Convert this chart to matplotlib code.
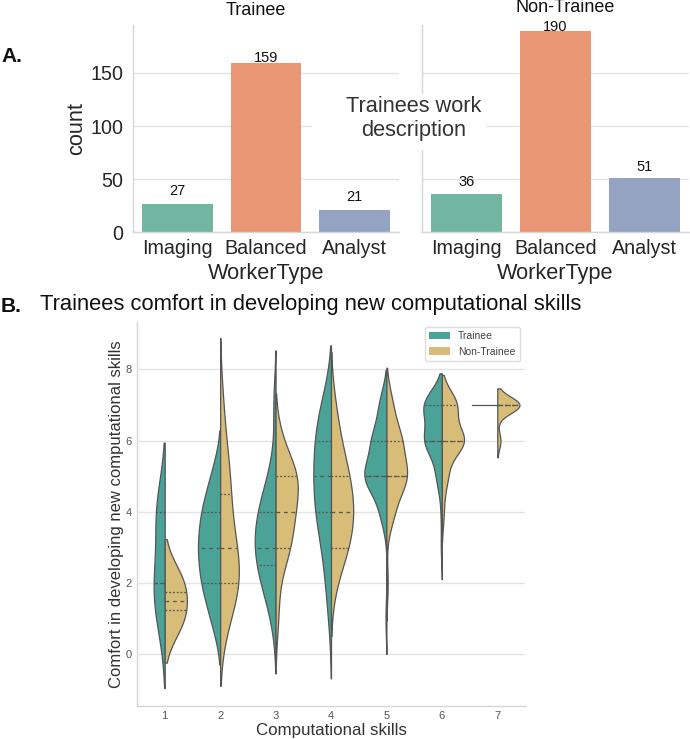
import numpy as np
import matplotlib
matplotlib.use("Agg")
import matplotlib.pyplot as plt
from matplotlib.patches import Rectangle, Patch
import seaborn as sns

# ---------------- data ----------------
worker_types = ["Imaging", "Balanced", "Analyst"]
trainee_worker_counts = [27, 159, 21]
nontrainee_worker_counts = [36, 190, 51]
panel_titles = ["Trainee", "Non-Trainee"]

skill_levels = [1, 2, 3, 4, 5, 6, 7]
comfort_levels = [1, 2, 3, 4, 5, 6, 7]
# rows: computational skill 1..7, columns: number of answers at comfort 1..7
trainee_comfort_counts = [
    [1, 2, 0, 2, 0, 0, 0],
    [3, 6, 7, 6, 3, 0, 0],
    [1, 4, 6, 5, 2, 0, 1],
    [1, 2, 3, 6, 6, 6, 4],
    [1, 0, 0, 6, 22, 14, 7],
    [0, 0, 1, 1, 5, 16, 17],
    [0, 0, 0, 0, 0, 0, 1],
]
nontrainee_comfort_counts = [
    [1, 1, 0, 0, 0, 0, 0],
    [2, 6, 4, 2, 3, 1, 1],
    [1, 1, 5, 6, 8, 2, 0],
    [0, 1, 4, 5, 4, 2, 1],
    [0, 1, 0, 5, 14, 10, 4],
    [0, 0, 0, 1, 3, 12, 8],
    [0, 0, 0, 0, 0, 1, 7],
]
group_names = ["Trainee", "Non-Trainee"]

# ---------------- style ----------------
plt.rcParams['font.family'] = ['Liberation Sans', 'DejaVu Sans']
W, H = 690, 739
fig = plt.figure(figsize=(W / 100, H / 100), dpi=100)
fig.patch.set_facecolor('white')

GRID = '#e4e4e4'
SPINE = '#d6d6d6'
TEXT = '#262626'


def px_axes(l, t, r, b):
    return fig.add_axes([l / W, 1 - b / H, (r - l) / W, (b - t) / H])


def style_axes(ax):
    ax.set_facecolor('white')
    ax.set_axisbelow(True)
    ax.yaxis.grid(True, color=GRID, lw=1.0)
    ax.xaxis.grid(False)
    for s in ['top', 'right']:
        ax.spines[s].set_visible(False)
    for s in ['left', 'bottom']:
        ax.spines[s].set_color(SPINE)
        ax.spines[s].set_linewidth(1.0)


# ---------------- panel A ----------------
bar_colors = [sns.desaturate(c, 0.75) for c in sns.color_palette("Set2", 3)]
axA1 = px_axes(133, 25.2, 399, 232.3)
axA2 = px_axes(422, 25.2, 689, 232.3)
title_pos = [((255.5 - 133) / 266, (232.3 - 11) / 207.1),
             ((565.4 - 422) / 267, (232.3 - 8) / 207.1)]
for k, (ax, counts) in enumerate(zip([axA1, axA2],
                                     [trainee_worker_counts, nontrainee_worker_counts])):
    style_axes(ax)
    x = np.arange(len(worker_types))
    ax.bar(x, counts, width=0.8, color=bar_colors, zorder=2)
    ax.set_xlim(-0.5, 2.5)
    ax.set_ylim(0, 195)
    ax.set_xticks(x, worker_types)
    ax.set_yticks([0, 50, 100, 150])
    ax.tick_params(axis='both', length=0, labelsize=14.2, colors=TEXT)
    ax.tick_params(axis='x', pad=5)
    ax.tick_params(axis='y', pad=7)
    for xi, c in zip(x, counts):
        ax.text(xi, 0.947 * c + 6.5, str(c), ha='center', va='bottom',
                fontsize=10.5, color='#111111')
    ax.set_xlabel('WorkerType', fontsize=15.7, color=TEXT, va='center')
    ax.xaxis.set_label_coords(0.5, (232.3 - 273) / 207.1)
    ax.set_title(panel_titles[k], fontsize=13, color='#111111', pad=0,
                 x=title_pos[k][0], y=title_pos[k][1], va='center')
axA1.set_ylabel('count', fontsize=15.7, color=TEXT, va='center')
axA1.yaxis.set_label_coords((77 - 133) / 266, 0.5)
axA2.tick_params(axis='y', labelleft=False)

# white box behind the middle label
fig.patches.append(Rectangle((312 / W, 1 - 150 / H), (486 - 312) / W, (150 - 94) / H,
                             transform=fig.transFigure, facecolor='white',
                             edgecolor='none', zorder=1))
fig.text(414 / W, 1 - 118.5 / H, 'Trainees work\ndescription', ha='center', va='center',
         fontsize=15.7, color='#333333', linespacing=1.18, zorder=3)

fig.text(1 / W, 1 - 57 / H, 'A.', fontsize=15, fontweight='bold', ha='left',
         va='center', color='#111111')

# ---------------- panel B ----------------
fig.text(1 / W, 1 - 306 / H, 'B.', fontsize=15, fontweight='bold', ha='left',
         va='center', color='#111111')
fig.text(39.6 / W, 1 - 305 / H, 'Trainees comfort in developing new computational skills',
         fontsize=15.8, ha='left', va='center', color='#111111')

violin_colors = ['#4ba397', '#d8bd78']
LINE = '#555555'
LW = 0.9
HALF = 0.4

axB = px_axes(137, 322, 525, 705.7)
style_axes(axB)


def kde(obs):
    obs = np.asarray(obs, float)
    n = obs.size
    bw = obs.std(ddof=1) * n ** (-1 / 5)
    support = np.linspace(obs.min() - 2 * bw, obs.max() + 2 * bw, 100)
    dens = np.exp(-0.5 * ((support[:, None] - obs[None, :]) / bw) ** 2).sum(1) / (
        n * bw * np.sqrt(2 * np.pi))
    return support, dens


for i, skill in enumerate(skill_levels):
    halves = []
    for counts in (trainee_comfort_counts[i], nontrainee_comfort_counts[i]):
        obs = np.repeat(comfort_levels, counts).astype(float)
        if np.unique(obs).size > 1:
            s, d = kde(obs)
            halves.append((obs, s, d))
        else:
            halves.append((obs, None, None))
    max_d = max(h[2].max() for h in halves if h[2] is not None)
    for j, (obs, s, d) in enumerate(halves):
        sign = -1 if j == 0 else 1
        if s is None:
            val = obs[0]
            axB.plot([i - 0.46, i], [val, val], color=LINE, lw=LW, zorder=2)
            continue
        d = d / max_d
        if j == 0:
            axB.fill_betweenx(s, i - d * HALF, i, facecolor=violin_colors[j],
                              edgecolor=LINE, lw=LW, zorder=2)
        else:
            axB.fill_betweenx(s, i, i + d * HALF, facecolor=violin_colors[j],
                              edgecolor=LINE, lw=LW, zorder=2)
        qs = np.percentile(obs, [25, 50, 75])
        for q, dash in zip(qs, [(1.5, 1.5), (3, 3), (1.5, 1.5)]):
            idx = np.argmin(np.abs(s - q))
            w = HALF * d[idx] * 0.99
            axB.plot([i, i + sign * w], [q, q], color=LINE, lw=LW, dashes=dash, zorder=3)

axB.set_xlim(-0.5, len(skill_levels) - 0.5)
axB.set_ylim(-1.44, 9.33)
axB.set_xticks(np.arange(len(skill_levels)), [str(s) for s in skill_levels])
axB.set_yticks([0, 2, 4, 6, 8])
axB.tick_params(axis='both', length=0, labelsize=8, colors='#555555')
axB.tick_params(axis='y', pad=3.8)
axB.tick_params(axis='x', pad=4)
axB.set_xlabel('Computational skills', fontsize=12.2, color='#333333', va='center')
axB.xaxis.set_label_coords(0.5, (705.7 - 730) / 383.7)
axB.set_ylabel('Comfort in developing new computational skills', fontsize=12,
               color='#333333', va='center')
axB.yaxis.set_label_coords((117 - 137) / 388, 0.5)

handles = [Patch(facecolor=violin_colors[0], label=group_names[0]),
           Patch(facecolor=violin_colors[1], label=group_names[1])]
leg = axB.legend(handles=handles, loc='upper right', fontsize=7.5, frameon=True,
                 fancybox=True, edgecolor='#dddddd', framealpha=1)
for t in leg.get_texts():
    t.set_color('#444444')

fig.savefig('out.png', dpi=100, facecolor='white')
